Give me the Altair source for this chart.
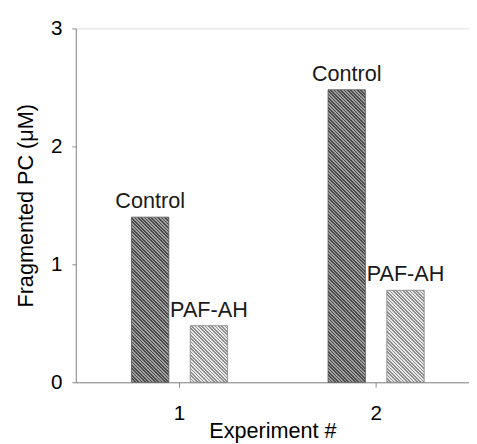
import math
import altair as alt
import pandas as pd

# ---- data ----
experiments = [1, 1, 2, 2]
groups = ["Control", "PAF-AH", "Control", "PAF-AH"]
values = [1.40, 0.48, 2.48, 0.78]

df = pd.DataFrame({"experiment": experiments, "group": groups, "value": values})

FONT = "Liberation Sans"
PLOT_W, PLOT_H = 400, 360
Y_MAX = 3
BAR_W = 38
PX_PER_UNIT = PLOT_H / Y_MAX

STYLE = {
    "Control": ("#4a4a4a", "#a0a0a0", "#555555"),
    "PAF-AH": ("#8e8e8e", "#e8e8e8", "#808080"),
}


def hatch(value, dark, light, pitch=3.4, duty=0.5):
    """Diagonal '\\' stripes as a linear gradient in bounding-box units."""
    W = BAR_W
    H = max(value * PX_PER_UNIT, 1.0)
    total = W + H
    n = int(math.ceil(total / pitch))
    stops = []
    for i in range(n):
        a = min(i * pitch / total, 1.0)
        b = min((i + duty) * pitch / total, 1.0)
        c = min((i + 1) * pitch / total, 1.0)
        stops += [
            alt.GradientStop(offset=a, color=dark),
            alt.GradientStop(offset=b, color=dark),
            alt.GradientStop(offset=b, color=light),
            alt.GradientStop(offset=c, color=light),
        ]
    k = (W + H) / (W * W + H * H)
    return alt.LinearGradient(
        gradient="linear", stops=stops,
        x1=0, y1=1, x2=W * k, y2=1 - H * k,
    )


xscale = alt.Scale(domain=[0.5, 2.45], nice=False, zero=False)
yscale = alt.Scale(domain=[0, Y_MAX], nice=False)

base = alt.Chart(df).transform_calculate(
    xpos="datum.experiment + (datum.group == 'Control' ? -0.147 : 0.152)"
)

xenc = alt.X(
    "xpos:Q", scale=xscale,
    axis=alt.Axis(
        values=[1, 2], format="d", title="Experiment #", grid=False,
        tickSize=5, labelPadding=16, titlePadding=-3,
        labelFontSize=21, titleFontSize=22, titleFontWeight="normal",
    ),
)
yenc = alt.Y(
    "value:Q", scale=yscale,
    axis=alt.Axis(
        values=[0, 1, 2, 3], format="d", title="Fragmented PC (μM)", grid=False,
        tickSize=4, labelPadding=10, titlePadding=13,
        labelFontSize=21, titleFontSize=22, titleFontWeight="normal",
    ),
)

layers = []
for i, (g, v) in enumerate(zip(groups, values)):
    dark, light, edge = STYLE[g]
    layers.append(
        base.transform_filter(
            (alt.datum.experiment == experiments[i]) & (alt.datum.group == g)
        ).mark_bar(
            size=BAR_W, fill=hatch(v, dark, light), stroke=edge, strokeWidth=0.8
        ).encode(x=xenc, y=yenc)
    )

labels = base.mark_text(
    baseline="alphabetic", dy=-9, fontSize=22, font=FONT, color="#1a1a1a"
).encode(x="xpos:Q", y="value:Q", text="group:N")

chart = alt.layer(*layers, labels).properties(
    width=PLOT_W, height=PLOT_H,
    autosize=alt.AutoSizeParams(type="none"),
    padding={"left": 69, "top": 17, "right": 0, "bottom": 59},
).configure_view(
    stroke="#555555", strokeWidth=1.5
).configure_axis(
    domainColor="#555555", domainWidth=1.5, tickColor="#555555", tickWidth=1.5,
    labelColor="#1a1a1a", titleColor="#1a1a1a",
    labelFont=FONT, titleFont=FONT, titleFontWeight="normal",
).configure(background="white")

chart.save("out.html", embed_options={"renderer": "svg", "actions": False})
